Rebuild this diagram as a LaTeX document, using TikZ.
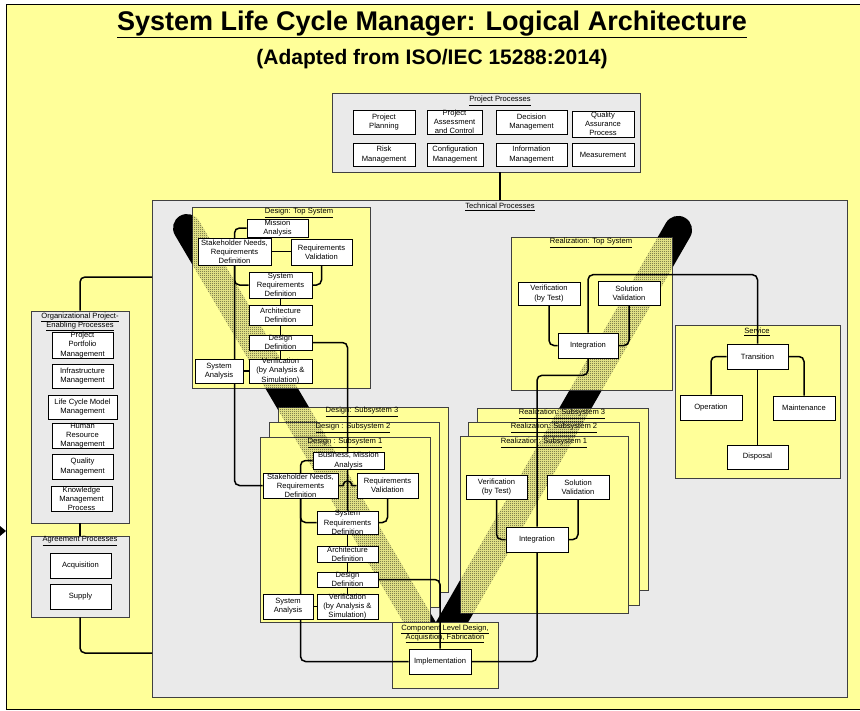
\documentclass[tikz,border=0pt]{standalone}
\usepackage{fontspec}
\setmainfont{Liberation Sans}
\usetikzlibrary{patterns.meta,shadows}
\definecolor{bgyellow}{RGB}{255,255,153}
\definecolor{grpgray}{RGB}{234,234,234}
\pgfdeclarelayer{back}
\pgfdeclarelayer{wires}
\pgfsetlayers{back,wires,main}
\tikzdeclarepattern{
  name=checker,
  type=uncolored,
  bounding box={(0pt,0pt) and (2pt,2pt)},
  tile size={(2pt,2pt)},
  code={\fill (0pt,0pt) rectangle (1pt,1pt); \fill (1pt,1pt) rectangle (2pt,2pt);}
}
\tikzset{
  txt/.style={align=center, font=\fontsize{7.6}{9.2}\selectfont, inner sep=0pt},
  ttl/.style={align=center, font=\fontsize{7.6}{9.2}\selectfont, inner sep=0pt},
  shd/.style={drop shadow={shadow xshift=1.2pt, shadow yshift=-1.2pt, opacity=.55}},
  box/.style={draw, fill=white, line width=.6pt, inner sep=0pt, shd, label={[txt]center:{#1}}},
  sz/.style 2 args={minimum width=#1, minimum height=#2},
  grp/.style={draw=black!75, fill=grpgray, line width=.8pt, inner sep=0pt, shd},
  card/.style={draw=black!75, fill=bgyellow, line width=.8pt, inner sep=0pt, shd},
  wire/.style={line width=1.5pt, rounded corners=5pt},
  vbar/.style={rectangle, inner sep=0pt, minimum height=28, rounded corners=14},
  stip/.style={pattern=checker, pattern color=black},
}
% the two arms of the V, only as dots where a card lies over them
\newcommand{\vstipple}{%
  \node[vbar, stip, rotate=-59.46, minimum width=518] at (311.5,439) {};
  \node[vbar, stip, rotate=60.05, minimum width=513] at (557,440) {};}
\newcommand{\stippled}[1]{\begin{scope}\clip (#1.south west) rectangle (#1.north east); \vstipple\end{scope}}
\begin{document}
\begin{tikzpicture}[x=1pt,y=-1pt]
\useasboundingbox (0,0) rectangle (860,710);
\begin{pgfonlayer}{back}
    % sheet and titles
    \fill[bgyellow] (6,4) rectangle (860,709);
    \draw[line width=.8pt] (860,4) -- (6,4) -- (6,709) -- (860,709);
    \fill (0,526) -- (6,531) -- (0,536) -- cycle;
    \node[font=\bfseries\fontsize{27}{30}\selectfont, anchor=base, inner sep=0pt] (title) at (432,30) {\underline{System Life Cycle Manager: Logical Architecture}};
    \node[font=\bfseries\fontsize{21}{24}\selectfont, anchor=base, inner sep=0pt] (subtitle) at (432,64) {(Adapted from ISO/IEC 15288:2014)};
    % process groups
    \node[grp, sz={308}{79}] (projproc) at (486,132.5) {};
    \node[ttl] (projttl) at (500,101) {\underline{Project Processes}};
    \node[grp, sz={695}{497}] (techproc) at (499.5,448.5) {};
    \node[ttl] (techttl) at (500,207) {\underline{Technical Processes}};
    \node[grp, sz={98}{212}] (orgproc) at (80,417) {};
    \node[ttl] (orgttl) at (80,322) {\underline{Organizational Project-}\\\underline{Enabling Processes}};
    \node[grp, sz={98}{81}] (agrproc) at (80,576.5) {};
    \node[ttl] (agrttl) at (80,541) {\underline{Agreement Processes}};
    % V
    \node[vbar, fill=black, rotate=-59.46, minimum width=518] (vleft) at (311.5,439) {};
    \node[vbar, fill=black, rotate=60.05, minimum width=513] (vright) at (557,440) {};
    % cards
    \node[card, sz={178}{181}] (dtop) at (281,297.5) {};
    \stippled{dtop}
    \node[card, sz={170}{185}] (ds3) at (363,499.5) {};
    \stippled{ds3}
    \node[card, sz={170}{185}] (ds2) at (354,514.5) {};
    \stippled{ds2}
    \node[card, sz={170}{185}] (ds1) at (345,529.5) {};
    \stippled{ds1}
    \node[card, sz={161}{153}] (rtop) at (591.5,313.5) {};
    \stippled{rtop}
    \node[card, sz={171}{182}] (rs3) at (562.5,499) {};
    \stippled{rs3}
    \node[card, sz={171}{183}] (rs2) at (553.5,513.5) {};
    \stippled{rs2}
    \node[card, sz={168}{177}] (rs1) at (544,524.5) {};
    \stippled{rs1}
    \node[card, sz={165}{153}] (serv) at (757.5,401.5) {};
    \node[card, sz={106}{66}] (comp) at (445,655) {};
    \node[ttl] (dtopttl) at (299,213) {\underline{Design: Top System}};
    \node[ttl] (ds3ttl) at (362,412) {\underline{Design: Subsystem 3}};
    \node[ttl] (ds2ttl) at (353,428) {\underline{Design : Subsystem 2}};
    \node[ttl] (ds1ttl) at (345,443) {\underline{Design : Subsystem 1}};
    \node[ttl] (rtopttl) at (591,243) {\underline{Realization: Top System}};
    \node[ttl] (rs3ttl) at (562,414) {\underline{Realization: Subsystem 3}};
    \node[ttl] (rs2ttl) at (554,428) {\underline{Realization: Subsystem 2}};
    \node[ttl] (rs1ttl) at (544,443) {\underline{Realization: Subsystem 1}};
    \node[ttl] (servttl) at (757,332) {\underline{Service}};
    \node[ttl] (compttl) at (445,634) {\underline{Component Level Design,}\\\underline{Acquisition, Fabrication}};
\end{pgfonlayer}
    % project processes
    \node[box={Project\\Planning}, sz={62}{24}] (pplan) at (384,122) {};
    \node[box={Project\\Assessment\\and Control}, sz={55}{24}] (passess) at (454.5,122) {};
    \node[box={Decision\\Management}, sz={71}{24}] (pdecis) at (531.5,122) {};
    \node[box={Quality\\Assurance\\Process}, sz={62}{26}] (pqual) at (603,124) {};
    \node[box={Risk\\Management}, sz={62}{23}] (prisk) at (384,154.5) {};
    \node[box={Configuration\\Management}, sz={56}{23}] (pconf) at (455,154.5) {};
    \node[box={Information\\Management}, sz={71}{23}] (pinfo) at (531.5,154.5) {};
    \node[box={Measurement}, sz={62}{23}] (pmeas) at (603,154.5) {};
    % organizational and agreement processes
    \node[box={Project\\Portfolio\\Management}, sz={61}{26}] (oport) at (82.5,345) {};
    \node[box={Infrastructure\\Management}, sz={61}{24}] (oinfra) at (82.5,376) {};
    \node[box={Life Cycle Model\\Management}, sz={69}{24}] (olcm) at (82.5,407) {};
    \node[box={Human\\Resource\\Management}, sz={61}{25}] (ohr) at (82.5,435.5) {};
    \node[box={Quality\\Management}, sz={61}{25}] (oqual) at (82.5,466.5) {};
    \node[box={Knowledge\\Management\\Process}, sz={61}{25}] (oknow) at (81.5,498.5) {};
    \node[box={Acquisition}, sz={61}{25}] (aacq) at (80.5,565.5) {};
    \node[box={Supply}, sz={61}{25}] (asup) at (80.5,596.5) {};
    % design: top system
    \node[box={Mission\\Analysis}, sz={61}{18}] (dmis) at (277.5,228) {};
    \node[box={Stakeholder Needs,\\Requirements\\Definition}, sz={73}{27}] (dstk) at (234.5,251.5) {};
    \node[box={Requirements\\Validation}, sz={61}{26}] (dval) at (321.5,252) {};
    \node[box={System\\Requirements\\Definition}, sz={63}{26}] (dsys) at (280.5,285) {};
    \node[box={Architecture\\Definition}, sz={63}{20}] (darc) at (280.5,315) {};
    \node[box={Design\\Definition}, sz={63}{15}] (ddes) at (280.5,342.5) {};
    \node[box={System\\Analysis}, sz={48}{24}] (dana) at (219,371) {};
    \node[box={Verification\\(by Analysis \&\\Simulation)}, sz={63}{24}] (dver) at (280.5,371) {};
    % design: subsystem 1
    \node[box={Business, Mission\\Analysis}, sz={71}{17}] (umis) at (348.5,460.5) {};
    \node[box={Stakeholder Needs,\\Requirements\\Definition}, sz={75}{25}] (ustk) at (300.5,485.5) {};
    \node[box={Requirements\\Validation}, sz={61}{25}] (uval) at (387.5,485.5) {};
    \node[box={System\\Requirements\\Definition}, sz={61}{23}] (usys) at (347.5,522.5) {};
    \node[box={Architecture\\Definition}, sz={61}{16}] (uarc) at (347.5,554) {};
    \node[box={Design\\Definition}, sz={61}{15}] (udes) at (347.5,579.5) {};
    \node[box={System\\Analysis}, sz={50}{25}] (uana) at (288,606.5) {};
    \node[box={Verification\\(by Analysis \&\\Simulation)}, sz={61}{25}] (uver) at (347.5,606.5) {};
    % realization: top system and subsystem 1
    \node[box={Verification\\(by Test)}, sz={62}{23}] (rver) at (549,293.5) {};
    \node[box={Solution\\Validation}, sz={62}{24}] (rsol) at (629,293) {};
    \node[box={Integration}, sz={60}{25}] (rint) at (588,345.5) {};
    \node[box={Verification\\(by Test)}, sz={61}{24}] (qver) at (496.5,487) {};
    \node[box={Solution\\Validation}, sz={62}{24}] (qsol) at (578,487) {};
    \node[box={Integration}, sz={62}{25}] (qint) at (537,539.5) {};
    % service and component level
    \node[box={Transition}, sz={61}{25}] (vtra) at (757.5,356.5) {};
    \node[box={Operation}, sz={62}{25}] (vop) at (711,407.5) {};
    \node[box={Maintenance}, sz={62}{24}] (vmain) at (804,408) {};
    \node[box={Disposal}, sz={61}{24}] (vdis) at (757.5,457) {};
    \node[box={Implementation}, sz={62}{25}] (cimp) at (440,661.5) {};
\begin{pgfonlayer}{wires}
    \coordinate (techorg) at (152,277);
    \coordinate (techagr) at (152,653);
    \draw[wire] (projproc.south -| techttl) -- (techproc.north -| techttl);
    \draw[wire] (orgproc.north) |- (techorg);
    \draw[wire] (orgproc.south) -- (agrproc.north);
    \draw[wire] (agrproc.south) |- (techagr);
    % top system design
    \draw[wire] (dmis.west) -- (dmis.west -| dstk.center) |- (ustk.west);
    \draw[wire] (dstk.south) |- (dsys.west);
    \draw[wire] (dstk.east) -- (dstk.east -| dval.west);
    \draw[wire] (dval.south) |- (dsys.east);
    \draw[wire] (dsys) -- (darc) (darc) -- (ddes) (ddes) -- (dver);
    \draw[wire] (dana) -- (dver);
    \draw[wire] (ddes.east) -| (usys.north);
    % subsystem design
    \draw[wire] (umis.west) -- (umis.west -| ustk.center) |- (cimp.west);
    \draw[wire] (ustk.south) |- (usys.west);
    \draw[wire, sharp corners] (ustk.east) -- (343,485.5) .. controls (343,479.5) and (352,479.5) .. (352,485.5) -- (uval.west);
    \draw[wire] (uval.south) |- (usys.east);
    \draw[wire] (usys) -- (uarc) (uarc) -- (udes) (udes) -- (uver);
    \draw[wire] (uana) -- (uver);
    \draw[wire] (udes.east) -| (cimp.north);
    % realization
    \draw[wire] (rver.south) |- (rint.west);
    \draw[wire] (rsol.south) |- (rint.east);
    \draw[wire] (rint.north) -- ++(0,-58) -| (vtra.north);
    \draw[wire] (rint.south) -- ++(0,17) -| (qint.north);
    \draw[wire] (qver.south) |- (qint.west);
    \draw[wire] (qsol.south) |- (qint.east);
    \draw[wire] (qint.south) |- (cimp.east);
    % service
    \draw[wire] (vtra.west) -| (vop.north);
    \draw[wire] (vtra.east) -| (vmain.north);
    \draw[wire] (vtra) -- (vdis);
\end{pgfonlayer}
\end{tikzpicture}
\end{document}
